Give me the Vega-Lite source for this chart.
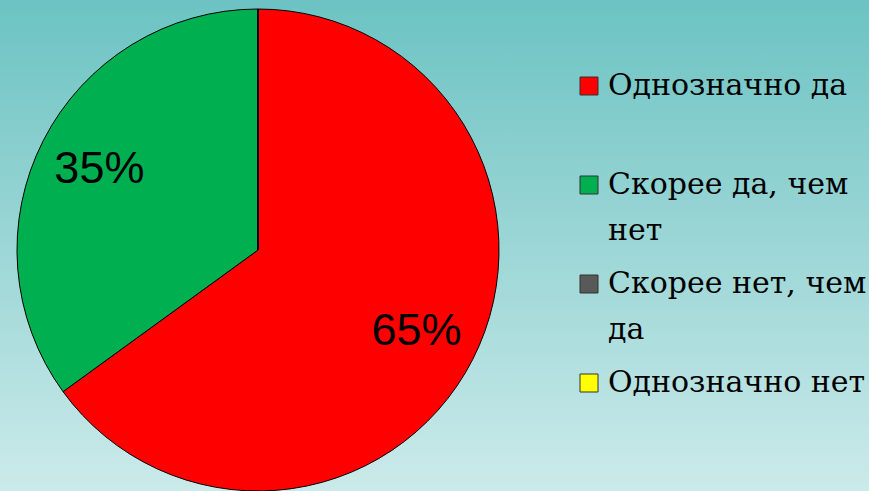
{
  "$schema": "https://vega.github.io/schema/vega-lite/v6.json",
  "width": 869,
  "height": 491,
  "padding": 0,
  "autosize": {"type": "none"},
  "config": {
    "view": {"stroke": null},
    "style": {"guide-label": {"lineHeight": 46}}
  },
  "data": {
    "values": [
      {"cat": "Однозначно да", "value": 0.65, "order": 1},
      {"cat": "Скорее да, чем нет", "value": 0.35, "order": 2},
      {"cat": "Скорее нет, чем да", "value": 0, "order": 3},
      {"cat": "Однозначно нет", "value": 0, "order": 4}
    ]
  },
  "layer": [
    {
      "data": {"values": [{"bg": 1}]},
      "mark": {
        "type": "rect",
        "x": 0, "x2": "width", "y": 0, "y2": "height",
        "fill": {
          "gradient": "linear",
          "x1": 0, "y1": 0, "x2": 0, "y2": 1,
          "stops": [
            {"offset": 0, "color": "#6cc3c3"},
            {"offset": 0.5, "color": "#9cd6d6"},
            {"offset": 1, "color": "#cbeaea"}
          ]
        }
      },
      "encoding": {}
    },
    {
      "mark": {"type": "arc", "x": 258, "y": 250, "outerRadius": 241, "stroke": "#000000", "strokeWidth": 1},
      "encoding": {
        "theta": {"field": "value", "type": "quantitative", "stack": true},
        "order": {"field": "order", "type": "quantitative"},
        "color": {
          "field": "cat",
          "type": "nominal",
          "scale": {
            "domain": ["Однозначно да", "Скорее да, чем нет", "Скорее нет, чем да", "Однозначно нет"],
            "range": ["#ff0000", "#00b050", "#595959", "#ffff00"]
          },
          "sort": null,
          "legend": {
            "title": null,
            "orient": "none",
            "legendX": 574,
            "legendY": 71,
            "symbolType": "square",
            "symbolSize": 324,
            "symbolStrokeColor": "#333333",
            "symbolStrokeWidth": 1,
            "symbolOpacity": 1,
            "labelFont": "DejaVu Serif",
            "labelFontSize": 30,
            "labelColor": "#000000",
            "labelLimit": 400,
            "labelOffset": 4,
            "rowPadding": 23,
            "labelExpr": "datum.label == 'Скорее да, чем нет' ? ['Скорее да, чем', 'нет'] : datum.label == 'Скорее нет, чем да' ? ['Скорее нет, чем', 'да'] : [datum.label, '']"
          }
        }
      }
    },
    {
      "transform": [{"filter": "datum.value > 0"}],
      "mark": {"type": "text", "x": 258, "y": 250, "radius": 178, "font": "Liberation Sans", "fontSize": 45, "color": "#000000"},
      "encoding": {
        "theta": {"field": "value", "type": "quantitative", "stack": true},
        "order": {"field": "order", "type": "quantitative"},
        "text": {"field": "value", "type": "quantitative", "format": ".0%"}
      }
    }
  ]
}
